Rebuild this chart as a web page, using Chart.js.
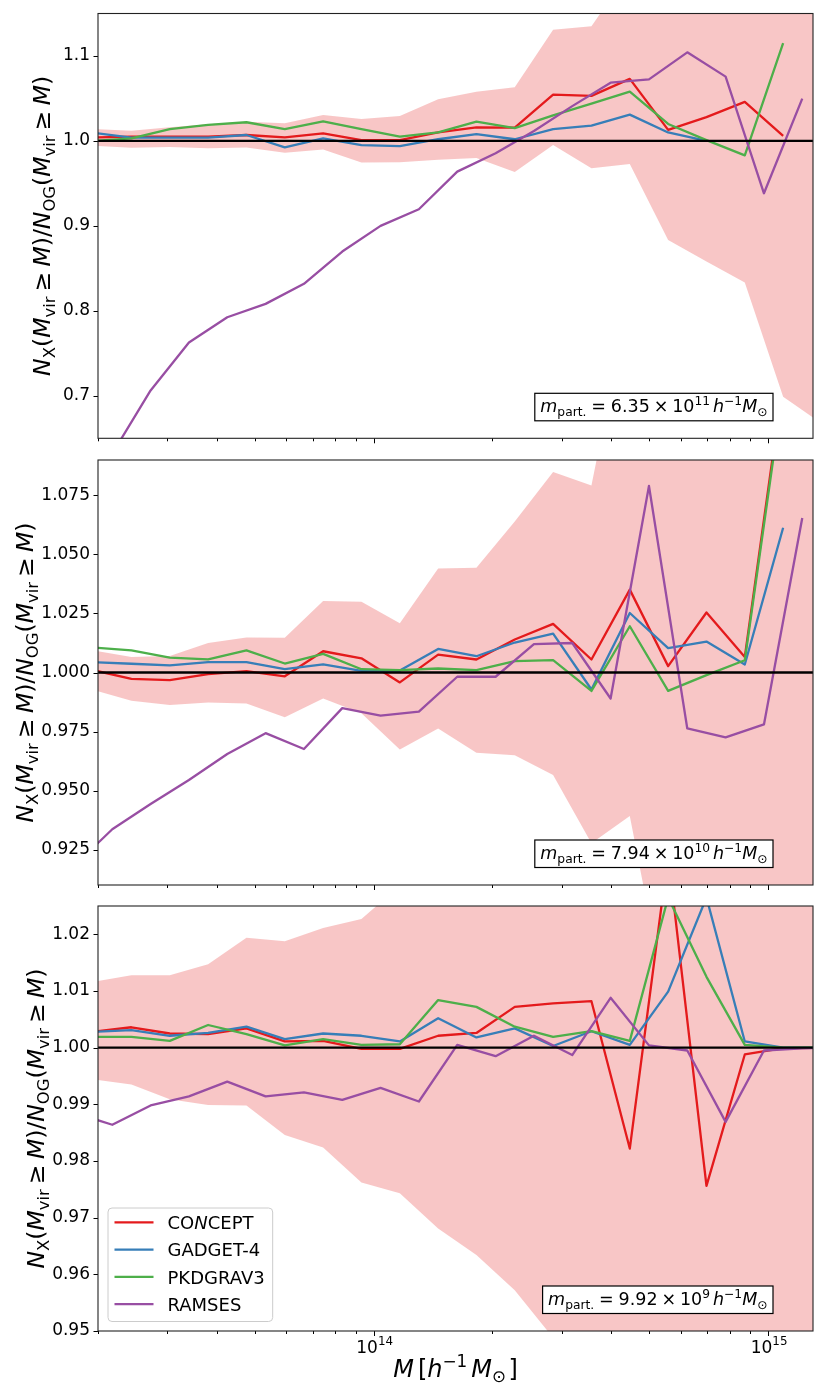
<!DOCTYPE html>
<html>
<head>
<meta charset="utf-8">
<script src="https://cdn.jsdelivr.net/npm/chart.js@4.4.1/dist/chart.umd.min.js"></script>
<style>
html, body { margin: 0; padding: 0; background: #fff; }
#wrap { position: relative; width: 822px; height: 1387px; }
#wrap canvas { position: absolute; left: 0; display: block; }
</style>
</head>
<body>
<div id="wrap">
  <canvas id="cTop" width="822" height="450" style="top:0px"></canvas>
  <canvas id="cMid" width="822" height="445" style="top:450px"></canvas>
  <canvas id="cBot" width="822" height="492" style="top:895px"></canvas>
</div>
<script>
/* ======== Data ======== */
// halo mass bins [h^-1 Msun]; RAMSES is sampled half a bin to the right
const massBins = [1.943e13, 2.431e13, 3.041e13, 3.804e13, 4.758e13, 5.952e13, 7.445e13, 9.311e13,
    1.165e14, 1.457e14, 1.822e14, 2.279e14, 2.851e14, 3.566e14, 4.461e14, 5.580e14, 6.980e14,
    8.730e14, 1.092e15, 1.366e15];
const ramsesBins = [1.738e13, 2.174e13, 2.719e13, 3.401e13, 4.254e13, 5.321e13, 6.656e13, 8.325e13,
    1.041e14, 1.302e14, 1.629e14, 2.038e14, 2.549e14, 3.188e14, 3.988e14, 4.989e14, 6.240e14,
    7.805e14, 9.763e14, 1.221e15, 1.528e15];

const codeNames = ['CONCEPT', 'GADGET-4', 'PKDGRAV3', 'RAMSES'];
const codeColors = ['#e41a1c', '#377eb8', '#4daf4a', '#984ea3'];

// top panel
const conceptTop = [1.004, 1.005, 1.005, 1.005, 1.007, 1.0043, 1.009, 1.001, 1.001, 1.010, 1.016, 1.0157,
    1.0545, 1.053, 1.073, 1.013, 1.028, 1.046, 1.006, null];
const gadgetTop = [1.0096, 1.004, 1.004, 1.004, 1.007, 0.9925, 1.003, 0.995, 0.994, 1.002, 1.008, 1.002,
    1.014, 1.018, 1.031, 1.010, 1.000, null, null, null];
const pkdgravTop = [1.000, 1.003, 1.014, 1.019, 1.022, 1.014, 1.023, 1.014, 1.005, 1.010, 1.0227, 1.015,
    1.030, 1.044, 1.058, 1.020, 1.001, 0.983, 1.115, null];
const ramsesTop = [0.57, 0.632, 0.7063, 0.7627, 0.7925, 0.8082, 0.8318, 0.8698, 0.900, 0.9196, 0.9639,
    0.9855, 1.0118, 1.041, 1.0686, 1.0725, 1.1043, 1.0757, 0.9384, 1.0498, null];
const bandUpTop = [1.0139, 1.012, 1.016, 1.0196, 1.0227, 1.0208, 1.0306, 1.0259, 1.0294, 1.049, 1.058,
    1.0631, 1.131, 1.135, 1.20, 1.24, 1.27, 1.31, 1.35, 1.40];
const bandLoTop = [0.9943, 0.992, 0.993, 0.9914, 0.9922, 0.986, 0.990, 0.9745, 0.975, 0.978, 0.980,
    0.9635, 0.9953, 0.9678, 0.973, 0.8835, 0.858, 0.8333, 0.699, 0.6675];

// middle panel
const conceptMid = [1.001, 0.9973, 0.9968, 0.9993, 1.0006, 0.9984, 1.009, 1.006, 0.9958, 1.0076, 1.0055,
    1.014, 1.0206, 1.0055, 1.0351, 1.0027, 1.0254, 1.0066, 1.123, null];
const gadgetMid = [1.0044, 1.0037, 1.003, 1.0044, 1.0044, 1.0014, 1.0034, 1.0007, 1.0008, 1.010, 1.0069,
    1.0127, 1.0165, 0.9928, 1.0252, 1.0103, 1.0131, 1.0034, 1.0613, null];
const pkdgravMid = [1.0106, 1.0094, 1.0063, 1.0056, 1.0094, 1.0038, 1.0079, 1.0014, 1.001, 1.0017, 1.001,
    1.0048, 1.0052, 0.9922, 1.0196, 0.9922, 0.9989, 1.0052, 1.12, null];
const ramsesMid = [0.918, 0.9336, 0.9443, 0.9545, 0.9655, 0.9743, 0.9676, 0.9849, 0.9817, 0.9834, 0.9982,
    0.9982, 1.012, 1.0125, 0.989, 1.079, 0.9763, 0.9725, 0.978, 1.0654, null];
const bandUpMid = [1.0093, 1.0066, 1.007, 1.0125, 1.0148, 1.0147, 1.0303, 1.030, 1.0209, 1.044, 1.0444,
    1.064, 1.0849, 1.0792, 1.16, 1.19, 1.22, 1.26, 1.30, 1.35];
const bandLoMid = [0.9927, 0.988, 0.9862, 0.9873, 0.9869, 0.981, 0.989, 0.9827, 0.9674, 0.9763, 0.966,
    0.965, 0.9566, 0.9277, 0.9392, 0.856, 0.82, 0.78, 0.74, 0.70];

// bottom panel
const conceptBot = [1.0028, 1.0036, 1.0025, 1.0024, 1.0034, 1.0011, 1.0012, 0.9998, 0.9998, 1.0021, 1.0026,
    1.0072, 1.0078, 1.0082, 0.9822, 1.034, 0.9756, 0.9988, 0.9999, 1.0];
const gadgetBot = [1.0028, 1.0031, 1.0021, 1.0026, 1.0037, 1.0015, 1.0025, 1.0021, 1.0011, 1.0052, 1.0018,
    1.0034, 1.0003, 1.0029, 1.0005, 1.0099, 1.0265, 1.0011, 1.0, 1.0];
const pkdgravBot = [1.0019, 1.0019, 1.0012, 1.004, 1.0024, 1.0004, 1.0015, 1.0005, 1.0006, 1.0084, 1.0072,
    1.0037, 1.0019, 1.0029, 1.0012, 1.0265, 1.0125, 1.0005, 1.0, 1.0];
const ramsesBot = [0.9885, 0.9864, 0.9898, 0.9914, 0.994, 0.9914, 0.9921, 0.9908, 0.9929, 0.9905, 1.0005,
    0.9985, 1.0021, 0.9987, 1.0088, 1.0004, 0.9995, 0.9869, 0.9995, 0.9999, 1.0];
const bandUpBot = [1.0116, 1.0128, 1.0128, 1.0147, 1.0194, 1.0188, 1.0211, 1.0227, 1.0286, 1.032, 1.036,
    1.04, 1.045, 1.05, 1.06, 1.07, 1.08, 1.10, 1.12, 1.15];
const bandLoBot = [0.9944, 0.9935, 0.9909, 0.9899, 0.9898, 0.9846, 0.9824, 0.9762, 0.9743, 0.9681, 0.9634,
    0.9572, 0.9488, 0.94, 0.93, 0.92, 0.90, 0.88, 0.86, 0.84];

// particle masses shown in the boxes
const partMass = ['6.35', '7.94', '9.92'];
const partExp = ['11', '10', '9'];

// axes
const xRange = [2e13, 1.3e15];
const xMajorTicks = [1e14, 1e15];
const xMajorLabels = ['14', '15'];
const xMinorSteps = [2, 3, 4, 5, 6, 7, 8, 9];
const yTicksTop = [0.7, 0.8, 0.9, 1.0, 1.1];
const yTicksMid = [0.925, 0.95, 0.975, 1.0, 1.025, 1.05, 1.075];
const yTicksBot = [0.95, 0.96, 0.97, 0.98, 0.99, 1.0, 1.01, 1.02];

/* ======== Text helpers (mathtext-like sub/superscripts) ======== */
const FAM = "'DejaVu Sans', sans-serif";
const BAND = 'rgba(228,26,28,0.25)';
const LW = 2.3;

// segment: [text, 'r'|'i', ''|'b'(sub)|'p'(sup)] or a number = gap in em
function richLayout(ctx, segs, size) {
    let w = 0;
    const items = [];
    segs.forEach(sg => {
        if (typeof sg === 'number') { w += sg * size; return; }
        const [t, st, pos] = sg;
        const sz = pos ? size * 0.7 : size;
        const font = (st === 'i' ? 'oblique ' : '') + sz.toFixed(2) + 'px ' + FAM;
        ctx.font = font;
        const dy = pos === 'b' ? size * 0.22 : pos === 'p' ? -size * 0.42 : 0;
        items.push({ t, font, x: w, dy });
        w += ctx.measureText(t).width;
    });
    return { items, w };
}

function drawRich(ctx, segs, x, y, size, align) {
    const L = richLayout(ctx, segs, size);
    const x0 = align === 'center' ? x - L.w / 2 : align === 'right' ? x - L.w : x;
    ctx.textAlign = 'left';
    ctx.textBaseline = 'alphabetic';
    ctx.fillStyle = '#000';
    L.items.forEach(it => { ctx.font = it.font; ctx.fillText(it.t, x0 + it.x, y + it.dy); });
    return L.w;
}

const yLabelSegs = [['N', 'i'], ['X', 'r', 'b'], ['(', 'r'], ['M', 'i'], ['vir', 'r', 'b'], 0.22, ['\u2265', 'r'], 0.22,
    ['M', 'i'], [')', 'r'], ['/', 'r'], ['N', 'i'], ['OG', 'r', 'b'], ['(', 'r'], ['M', 'i'], ['vir', 'r', 'b'], 0.22,
    ['\u2265', 'r'], 0.22, ['M', 'i'], [')', 'r']];
const xLabelSegs = [['M', 'i'], 0.17, ['[', 'r'], ['h', 'i'], ['\u22121', 'r', 'p'], 0.17, ['M', 'i'], ['\u2299', 'r', 'b'], 0.1, [']', 'r']];
const legendSegs = {
    'CONCEPT': [['CO', 'r'], ['N', 'i'], ['CEPT', 'r']]
};

function boxSegs(mass, exp) {
    return [['m', 'i'], ['part.', 'r', 'b'], 0.28, ['=', 'r'], 0.28, [mass, 'r'], 0.22, ['\u00d7', 'r'], 0.22,
        ['10', 'r'], [exp, 'r', 'p'], 0.17, ['h', 'i'], ['\u22121', 'r', 'p'], ['M', 'i'], ['\u2299', 'r', 'b']];
}

/* ======== Decoration plugin: ticks, spines, labels, box, legend ======== */
const decor = {
    id: 'decor',
    afterDraw(chart, args, o) {
        const { ctx, chartArea: a, scales: { x, y } } = chart;
        ctx.save();
        ctx.strokeStyle = '#000';
        ctx.lineWidth = 1;
        ctx.beginPath();
        x.ticks.forEach(t => {
            const px = Math.round(x.getPixelForValue(t.value)) + 0.5;
            ctx.moveTo(px, a.bottom);
            ctx.lineTo(px, a.bottom + (t.major ? 5 : 3));
        });
        y.ticks.forEach(t => {
            const py = Math.round(y.getPixelForValue(t.value)) + 0.5;
            ctx.moveTo(a.left - 4.5, py);
            ctx.lineTo(a.left, py);
        });
        ctx.stroke();
        ctx.strokeStyle = '#222';
        ctx.lineWidth = 1.1;
        ctx.strokeRect(a.left, a.top, a.right - a.left, a.bottom - a.top);

        // y label (its x depends on the width of the tick labels, as in matplotlib)
        ctx.save();
        ctx.translate(o.labelX, (a.top + a.bottom) / 2);
        ctx.rotate(-Math.PI / 2);
        drawRich(ctx, yLabelSegs, 0, 0, 23.5, 'center');
        ctx.restore();

        // particle-mass box (lower right)
        const segs = boxSegs(o.mass, o.exp);
        const L = richLayout(ctx, segs, 17.5);
        const right = a.right - 40, bottom = a.bottom - 17.5, bh = 27.5, pad = 5.5;
        const left = right - L.w - 2 * pad;
        ctx.fillStyle = '#fff';
        ctx.fillRect(left, bottom - bh, right - left, bh);
        ctx.strokeStyle = '#000';
        ctx.lineWidth = 1.2;
        ctx.strokeRect(left, bottom - bh, right - left, bh);
        drawRich(ctx, segs, left + pad, bottom - 8.5, 17.5, 'left');

        if (o.bottomAxis) {
            xMajorTicks.forEach((v, i) => {
                const px = x.getPixelForValue(v);
                drawRich(ctx, [['10', 'r'], [xMajorLabels[i], 'r', 'p']], px + 1, a.bottom + 21.5, 17, 'center');
            });
            drawRich(ctx, xLabelSegs, (a.left + a.right) / 2, a.bottom + 46, 24, 'center');
        }

        if (o.legend) {
            const fs = 18, rowH = 27.3;
            const items = chart.data.datasets.filter(d => codeNames.includes(d.label));
            items.sort((p, q) => codeNames.indexOf(p.label) - codeNames.indexOf(q.label));
            let tw = 0;
            items.forEach(d => { tw = Math.max(tw, richLayout(ctx, legendSegs[d.label] || [[d.label, 'r']], fs).w); });
            const bx = a.left + 10, bw = 59.5 + tw + 8, bh2 = 113.5, by = a.bottom - 9.5 - bh2;
            ctx.beginPath();
            ctx.roundRect(bx, by, bw, bh2, 4);
            ctx.fillStyle = 'rgba(255,255,255,0.8)';
            ctx.fill();
            ctx.strokeStyle = '#cccccc';
            ctx.lineWidth = 1;
            ctx.stroke();
            items.forEach((d, i) => {
                const cy = by + 14.3 + rowH * i;
                ctx.strokeStyle = d.borderColor;
                ctx.lineWidth = LW;
                ctx.beginPath();
                ctx.moveTo(bx + 6.5, cy);
                ctx.lineTo(bx + 45.5, cy);
                ctx.stroke();
                drawRich(ctx, legendSegs[d.label] || [[d.label, 'r']], bx + 59.5, cy + 6.6, fs, 'left');
            });
        }
        ctx.restore();
    }
};

/* ======== Chart builder ======== */
function pts(xs, ys) {
    return ys.map((v, i) => ({ x: xs[i], y: v }));
}

function xTickList() {
    const out = [];
    [1e13, 1e14, 1e15].forEach(dec => {
        [1].concat(xMinorSteps).forEach(m => {
            const v = m * dec;
            if (v >= xRange[0] && v <= xRange[1]) out.push({ value: v, major: xMajorTicks.includes(v) });
        });
    });
    return out;
}

function buildPanel(p) {
    const lineDs = (label, xs, ys, k) => ({
        label, data: pts(xs, ys), borderColor: codeColors[k], backgroundColor: codeColors[k],
        borderWidth: LW, pointRadius: 0, fill: false, tension: 0, clip: 0,
        borderJoinStyle: 'round', order: 4 - k
    });
    const datasets = [
        { label: '_bandUp', data: pts(massBins, p.band[0]), fill: '+1', backgroundColor: BAND,
          borderColor: 'transparent', borderWidth: 0, pointRadius: 0, order: 6, clip: 0 },
        { label: '_bandLo', data: pts(massBins, p.band[1]), fill: false, backgroundColor: BAND,
          borderColor: 'transparent', borderWidth: 0, pointRadius: 0, order: 6, clip: 0 },
        lineDs(codeNames[0], massBins, p.series[0], 0),
        lineDs(codeNames[1], massBins, p.series[1], 1),
        lineDs(codeNames[2], massBins, p.series[2], 2),
        lineDs(codeNames[3], ramsesBins, p.series[3], 3),
        { label: '_unity', data: [{ x: 1e13, y: 1 }, { x: 2e15, y: 1 }], borderColor: '#000',
          borderWidth: LW, pointRadius: 0, fill: false, order: 0, clip: 0 }
    ];
    return new Chart(document.getElementById(p.id), {
        type: 'line',
        data: { datasets },
        plugins: [decor],
        options: {
            responsive: false,
            animation: false,
            events: [],
            layout: { padding: { top: p.padTop, right: 9, bottom: 0, left: 0 } },
            plugins: {
                legend: { display: false },
                tooltip: { enabled: false },
                filler: { propagate: false, drawTime: 'beforeDatasetsDraw' },
                decor: { mass: p.mass, exp: p.exp, legend: p.legend, bottomAxis: p.legend, labelX: p.labelX }
            },
            scales: {
                x: {
                    type: 'logarithmic', min: xRange[0], max: xRange[1], bounds: 'data',
                    grid: { display: false, drawTicks: false }, border: { display: false },
                    ticks: { display: false },
                    afterBuildTicks: s => { s.ticks = xTickList(); },
                    afterFit: s => { s.height = p.xH; s.paddingLeft = 0; s.paddingRight = 0; }
                },
                y: {
                    type: 'linear', min: p.yRange[0], max: p.yRange[1], bounds: 'data',
                    grid: { display: false, drawTicks: false }, border: { display: false },
                    ticks: { padding: 8, color: '#000', autoSkip: false, font: { family: FAM, size: 17 },
                             callback: v => Number(v).toFixed(p.dec) },
                    afterBuildTicks: s => { s.ticks = p.yTicks.map(v => ({ value: v })); },
                    afterFit: s => { s.width = 98; s.paddingTop = 0; s.paddingBottom = 0; }
                }
            }
        }
    });
}

Chart.defaults.font.family = FAM;

buildPanel({ id: 'cTop', padTop: 13.5, xH: 11.7, yRange: [0.65, 1.15], yTicks: yTicksTop, dec: 1, labelX: 50,
    band: [bandUpTop, bandLoTop], series: [conceptTop, gadgetTop, pkdgravTop, ramsesTop],
    mass: partMass[0], exp: partExp[0], legend: false });
buildPanel({ id: 'cMid', padTop: 10, xH: 10, yRange: [0.91, 1.09], yTicks: yTicksMid, dec: 3, labelX: 33,
    band: [bandUpMid, bandLoMid], series: [conceptMid, gadgetMid, pkdgravMid, ramsesMid],
    mass: partMass[1], exp: partExp[1], legend: false });
buildPanel({ id: 'cBot', padTop: 11, xH: 56, yRange: [0.95, 1.025], yTicks: yTicksBot, dec: 2, labelX: 44,
    band: [bandUpBot, bandLoBot], series: [conceptBot, gadgetBot, pkdgravBot, ramsesBot],
    mass: partMass[2], exp: partExp[2], legend: true });
</script>
</body>
</html>
